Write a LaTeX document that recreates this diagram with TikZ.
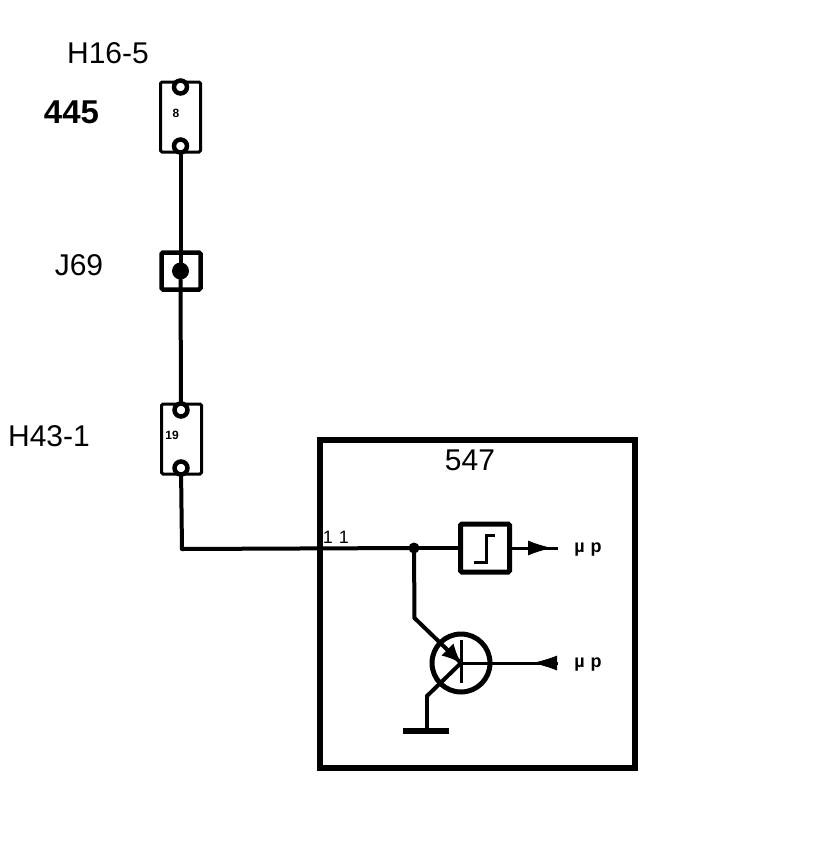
\documentclass[tikz,border=0pt]{standalone}
\usepackage{fontspec}
\setmainfont{Liberation Sans}
\usetikzlibrary{arrows.meta}
\begin{document}
\begin{tikzpicture}
[x=1pt,y=-1pt,%
  lineDecorate/.style={-,line width=4pt},%
  lineThin/.style={-,line width=3pt},%
  pinBox/.style={shape=rectangle,draw,line width=3pt,rounded corners=1.5pt,minimum width=40pt,minimum height=70pt,inner sep=0pt},
  pinHole/.style={shape=circle,draw,fill=white,line width=4.5pt,minimum size=13pt,inner sep=0pt},
  labelText/.style={font=\fontsize{30}{30}\selectfont,inner sep=0pt},
  tinyText/.style={font=\fontsize{12}{12}\selectfont\bfseries,inner sep=0pt},
  smallText/.style={font=\fontsize{18}{18}\selectfont\bfseries,inner sep=0pt}]
\useasboundingbox (0,0) rectangle (816,844);
%% connectors and boxes
\node (h165) at (180.5,117) [pinBox] {};
\node (h431) at (181.5,439) [pinBox] {};
\foreach \nodename/\x/\y in {
  h165ht/180.5/87, h165hb/180.5/146, h431ht/181/410, h431hb/181/468}
{
  \node (\nodename) at (\x,\y) [pinHole] {};
}
\node (j69) at (181,271) [shape=rectangle,draw,line width=4.5pt,rounded corners=1.5pt,minimum width=39pt,minimum height=37pt,inner sep=0pt] {};
\node (j69dot) at (180.5,271) [shape=circle,fill,minimum size=17pt,inner sep=0pt] {};
\node (ecu) at (477,603.5) [shape=rectangle,draw,line width=6pt,minimum width=315pt,minimum height=328pt,inner sep=0pt] {};
\node (trigger) at (485,548) [shape=rectangle,draw,line width=5pt,rounded corners=1.5pt,minimum width=49pt,minimum height=48pt,inner sep=0pt] {};
\node (transistor) at (461,663) [shape=circle,draw,line width=5pt,minimum size=58pt,inner sep=0pt] {};
%% free points
\foreach \nodename/\x/\y in {
  corner/182/549, solder/414/548, bend/414.5/618, base/461/663,
  barTop/461.5/640, barBot/461.5/683, bendLow/427/696, earth/427/731,
  earthL/403/731, earthR/449/731, tipOut/552/548, endOut/558/548,
  tipIn/532/663, endIn/558/663, stepA/474/562, stepB/486/562,
  stepC/486/535, stepD/495/535, startOut/528/548, startEm/436/638}
{
  \coordinate (\nodename) at (\x,\y);
}
%% edges or lines
\path
\foreach \startnode/\endnode in {
  h165hb/j69dot, j69dot/h431ht, h431hb/corner, corner/solder, solder/trigger,
  solder/bend, bend/base, base/bendLow, bendLow/earth}
{
  (\startnode) edge[lineDecorate,line cap=round] (\endnode)
};
\path
\foreach \startnode/\endnode in {trigger/endOut, base/endIn}
{
  (\startnode) edge[lineThin] (\endnode)
};
\draw[line width=5.5pt] (earthL) -- (earthR);
\draw[line width=3pt] (barTop) -- (barBot);
\draw[line width=3pt] (stepA) -- (stepB) -- (stepC) -- (stepD);
%% arrow tips
\draw[-{Latex[length=24pt,width=15pt]},line width=1pt] (startOut) -- (tipOut);
\draw[-{Latex[length=25pt,width=15pt]},line width=1pt] (endIn) -- (tipIn);
\draw[-{Latex[length=19pt,width=17pt]},line width=1pt] (startEm) -- (base);
\node (solderDot) at (solder) [shape=circle,fill,minimum size=11pt,inner sep=0pt] {};
%% labels
\node (lblHa) at (108,53) [labelText] {H16-5};
\node (lblPart) at (71.5,112) [labelText,font=\fontsize{33}{33}\selectfont\bfseries] {445};
\node (lblJ) at (79,265) [labelText] {J69};
\node (lblHb) at (49,436) [labelText] {H43-1};
\node (lblEcu) at (470,460) [labelText] {547};
\node (lblPin) at (336,537) [labelText,font=\fontsize{18}{18}\selectfont] {1\,\,1};
\node (lblEight) at (176,113) [tinyText] {8};
\node (lblNine) at (172,435) [tinyText] {19};
\node (lblOut) at (588,550) [smallText] {µ\,\,p};
\node (lblIn) at (588,665) [smallText] {µ\,\,p};
\end{tikzpicture}
\end{document}
